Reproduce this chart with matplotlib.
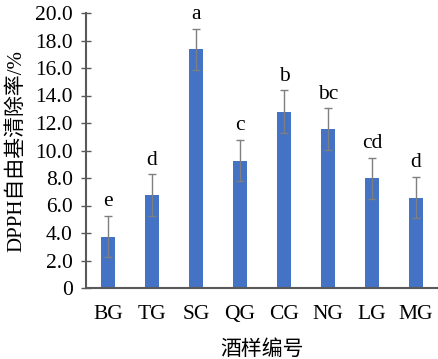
import matplotlib.pyplot as plt
import numpy as np

# data
samples = ['BG', 'TG', 'SG', 'QG', 'CG', 'NG', 'LG', 'MG']
rates = [3.73, 6.76, 17.36, 9.26, 12.82, 11.56, 7.98, 6.57]
errs = [1.5, 1.5, 1.5, 1.5, 1.55, 1.5, 1.5, 1.5]
letters = ['e', 'd', 'a', 'c', 'b', 'bc', 'cd', 'd']

serif = 'Liberation Serif'
cjk = ['Liberation Serif', 'Noto Sans CJK SC']

fig = plt.figure(figsize=(4.39, 3.59), dpi=100)
ax = fig.add_axes([86/439, 1 - 288/359, 352/439, 275/359])

x = np.arange(len(samples))
ax.bar(x, rates, width=0.3, color='#4472C4', zorder=2)
ax.errorbar(x, rates, yerr=errs, fmt='none', ecolor='#7f7f7f',
            elinewidth=1, capsize=3, capthick=1, zorder=3)

for xi, r, e, lab in zip(x, rates, errs, letters):
    ax.text(xi, r + e + 0.35, lab, ha='center', va='bottom',
            fontsize=15.5, family=serif)

ax.set_xlim(-0.5, len(samples) - 0.5)
ax.set_ylim(0, 20)
ax.set_yticks(np.arange(0, 21, 2))
ax.set_yticklabels(['0'] + ['%.1f' % v for v in np.arange(2, 21, 2)],
                   fontsize=15.5, family=serif)
ax.set_xticks(x)
ax.set_xticklabels(samples, fontsize=15.5, family=serif)
ax.tick_params(axis='x', length=0, pad=12)
ax.tick_params(axis='y', direction='inout', length=7, width=1,
               color='#595959', pad=6)

for s in ['top', 'right']:
    ax.spines[s].set_visible(False)
for s in ['left', 'bottom']:
    ax.spines[s].set_color('#595959')
    ax.spines[s].set_linewidth(1.5)

ax.set_xlabel('酒样编号', fontsize=15, family=cjk, labelpad=12)
ax.set_ylabel('DPPH自由基清除率/%', fontsize=15, family=cjk, labelpad=6)

fig.savefig('out.png', dpi=100)
